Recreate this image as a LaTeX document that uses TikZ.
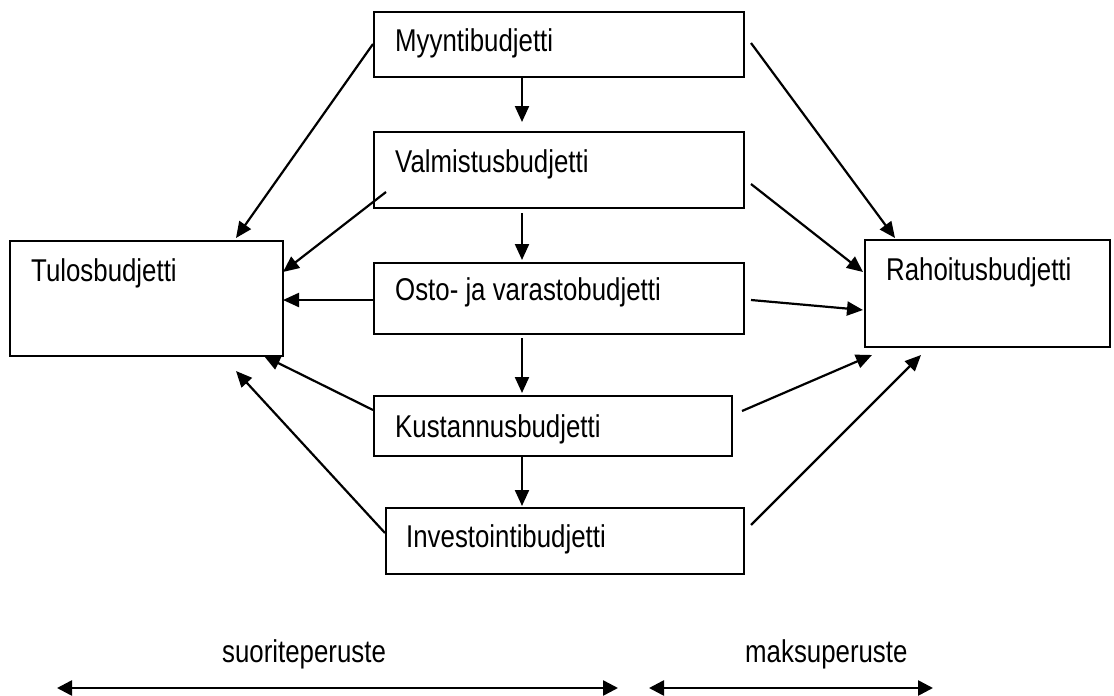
\documentclass[tikz,border=0pt]{standalone}
\usepackage{fontspec}
\setmainfont{Liberation Sans}[FakeStretch=0.82]
\usetikzlibrary{calc,arrows.meta}
\tikzset{
  box/.style={draw, line width=2pt, inner sep=0pt, anchor=north west},
  lbl/.style={inner sep=0pt, anchor=base west, font=\fontsize{31.5}{36}\selectfont},
  arr/.style={line width=2.2pt, -{Triangle[length=16pt,width=14pt]}},
  spanarr/.style={line width=2.6pt, {Triangle[length=15pt,width=15pt]}-{Triangle[length=15pt,width=15pt]}},
}
\begin{document}
\begin{tikzpicture}[x=1pt,y=-1pt]
\useasboundingbox (0,0) rectangle (1114,696);
% boxes
\node[box, minimum width=370pt, minimum height=65pt] (myynti) at (373,11) {};
\node[box, minimum width=370pt, minimum height=76pt] (valm) at (373,131) {};
\node[box, minimum width=370pt, minimum height=71pt] (osto) at (373,262) {};
\node[box, minimum width=358pt, minimum height=60pt] (kust) at (373,395) {};
\node[box, minimum width=358pt, minimum height=66pt] (inv) at (385,507) {};
\node[box, minimum width=273pt, minimum height=115pt] (tulos) at (9,240) {};
\node[box, minimum width=245pt, minimum height=107pt] (rah) at (864,239) {};
% texts
\node[lbl] (tmyynti) at (395,51) {Myyntibudjetti};
\node[lbl] (tvalm) at (395,172) {Valmistusbudjetti};
\node[lbl] (tosto) at (395,300) {Osto- ja varastobudjetti};
\node[lbl] (tkust) at (395,437) {Kustannusbudjetti};
\node[lbl] (tinv) at (406,547) {Investointibudjetti};
\node[lbl] (ttulos) at (31,281) {Tulosbudjetti};
\node[lbl] (trah) at (886,280) {Rahoitusbudjetti};
\node[lbl] (tsuor) at (222,662) {suoriteperuste};
\node[lbl] (tmaksu) at (745,662) {maksuperuste};
% vertical chain
\draw[arr] ($(myynti.north west)+(149,65)$) -- ($(valm.north west)+(149,-9)$);
\draw[arr] ($(valm.north west)+(149,82)$) -- ($(osto.north west)+(149,-2)$);
\draw[arr] ($(osto.north west)+(149,76)$) -- ($(kust.north west)+(149,-2)$);
\draw[arr] ($(kust.north west)+(149,60)$) -- ($(inv.north west)+(137,-1)$);
% to Tulosbudjetti
\draw[arr] ($(myynti.north west)+(0,33)$) -- ($(tulos.north west)+(227,-2)$);
\draw[arr] ($(valm.north west)+(13,61)$) -- ($(tulos.north west)+(274,32)$);
\draw[arr] ($(osto.north west)+(0,38)$) -- ($(tulos.north west)+(274,60)$);
\draw[arr] ($(kust.north west)+(0,15)$) -- ($(tulos.north west)+(255,116)$);
\draw[arr] ($(inv.north west)+(0,26)$) -- ($(tulos.north west)+(227,131)$);
% to Rahoitusbudjetti
\draw[arr] ($(myynti.north west)+(378,32)$) -- ($(rah.north west)+(31,-1)$);
\draw[arr] ($(valm.north west)+(378,53)$) -- ($(rah.north west)+(-1,33)$);
\draw[arr] ($(osto.north west)+(378,38)$) -- ($(rah.north west)+(-1,71)$);
\draw[arr] ($(kust.north west)+(369,16)$) -- ($(rah.north west)+(8,116)$);
\draw[arr] ($(inv.north west)+(366,18)$) -- ($(rah.north west)+(57,116)$);
% bottom spans
\coordinate (s1) at (57,688);
\coordinate (s2) at (618,688);
\coordinate (m1) at (649,688);
\coordinate (m2) at (933,688);
\draw[spanarr] (s1) -- (s2);
\draw[spanarr] (m1) -- (m2);
\end{tikzpicture}
\end{document}
